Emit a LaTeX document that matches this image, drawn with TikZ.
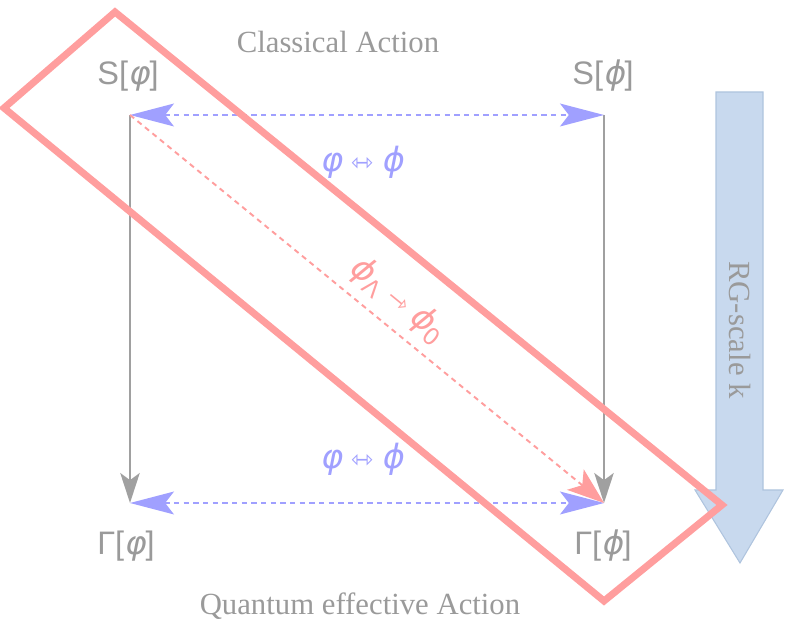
\documentclass[tikz,border=0pt]{standalone}
\usepackage{fontspec}
\setmainfont{Liberation Serif}
\setsansfont{Liberation Sans}
\newfontfamily\arrowfont{DejaVu Sans}
\newfontfamily\greekit{DejaVu Sans}[FakeSlant=0.2]
\usetikzlibrary{arrows.meta}
\definecolor{linegray}{HTML}{A0A0A0}
\definecolor{textgray}{HTML}{9A9A9A}
\definecolor{mapblue}{HTML}{A0A0FF}
\definecolor{flowpink}{HTML}{FF9E9E}
\definecolor{rgfill}{HTML}{C8D9EE}
\definecolor{rgedge}{HTML}{AFC4DE}
\newcommand{\vphi}{{\greekit φ}}
\newcommand{\sphi}{{\greekit ϕ}}
\newcommand{\openarrow}[1]{{\arrowfont\fontsize{15}{16}\selectfont #1}}
\tikzset{
  action/.style={text=textgray, font=\fontsize{18.5}{20}\selectfont\sffamily},
  caption/.style={text=textgray, font=\fontsize{17.5}{20}\selectfont},
  flowarrow/.style={draw=linegray, line width=1.7pt,
    -{Stealth[length=17pt, width=11pt, inset=4pt]}},
  maparrow/.style={draw=mapblue, line width=1.1pt, dash pattern=on 3pt off 2.5pt,
    {Stealth[length=25pt, width=13pt, inset=5pt]}-{Stealth[length=25pt, width=13pt, inset=5pt]}},
  maplabel/.style={text=mapblue, font=\fontsize{19}{20}\selectfont},
  rgflow/.style={draw=flowpink, line width=1.1pt, dash pattern=on 3pt off 2.5pt,
    -{Stealth[length=21pt, width=15pt, inset=5pt]}},
  rglabel/.style={text=flowpink, font=\fontsize{19}{20}\selectfont},
}
\begin{document}
\begin{tikzpicture}[x=0.02cm, y=-0.02cm]
    \useasboundingbox (0,0) rectangle (785,624);

    % RG-scale arrow
    \draw[fill=rgfill, draw=rgedge, line width=0.6pt]
      (716,92) -- (763,92) -- (763,490) -- (783,490) -- (740,563)
      -- (695,490) -- (716,490) -- cycle;
    \node[caption, rotate=-90] (rgscale) at (740,330) {RG-scale k};

    % Corners
    \coordinate (Sphi) at (130,115);
    \coordinate (SPhi) at (604,115);
    \coordinate (Gphi) at (130,503);
    \coordinate (GPhi) at (604,503);

    % Labels
    \node[caption] (classical) at (338,42) {Classical Action};
    \node[caption] (quantum) at (360,606) {Quantum effective Action};
    \node[action] (lSphi) at (128,76) {S[\vphi]};
    \node[action] (lSPhi) at (603,76) {S[\sphi]};
    \node[action] (lGphi) at (126,546) {Γ[\vphi]};
    \node[action] (lGPhi) at (603,546) {Γ[\sphi]};

    % Flow to quantum effective action
    \draw[flowarrow] (Sphi) -- (Gphi);
    \draw[flowarrow] (SPhi) -- (GPhi);

    % Field maps
    \draw[maparrow] (Sphi) -- node[maplabel, pos=0.49, below=14pt]
      {\vphi\ \openarrow{⇿}\ \sphi} (SPhi);
    \draw[maparrow] (Gphi) -- node[maplabel, pos=0.49, above=12pt]
      {\vphi\ \openarrow{⇿}\ \sphi} (GPhi);

    % RG flow
    \draw[rgflow] (Sphi) -- node[rglabel, pos=0.53, sloped, above=2pt]
      {\sphi\textsubscript{\arrowfont Λ}\ \openarrow{⇾}\ \sphi\textsubscript{\arrowfont 0}} (GPhi);

    % Band
    \draw[flowpink, line width=4pt, line join=miter]
      (115,12) -- (722,505) -- (604,601) -- (4,108) -- cycle;
\end{tikzpicture}
\end{document}
